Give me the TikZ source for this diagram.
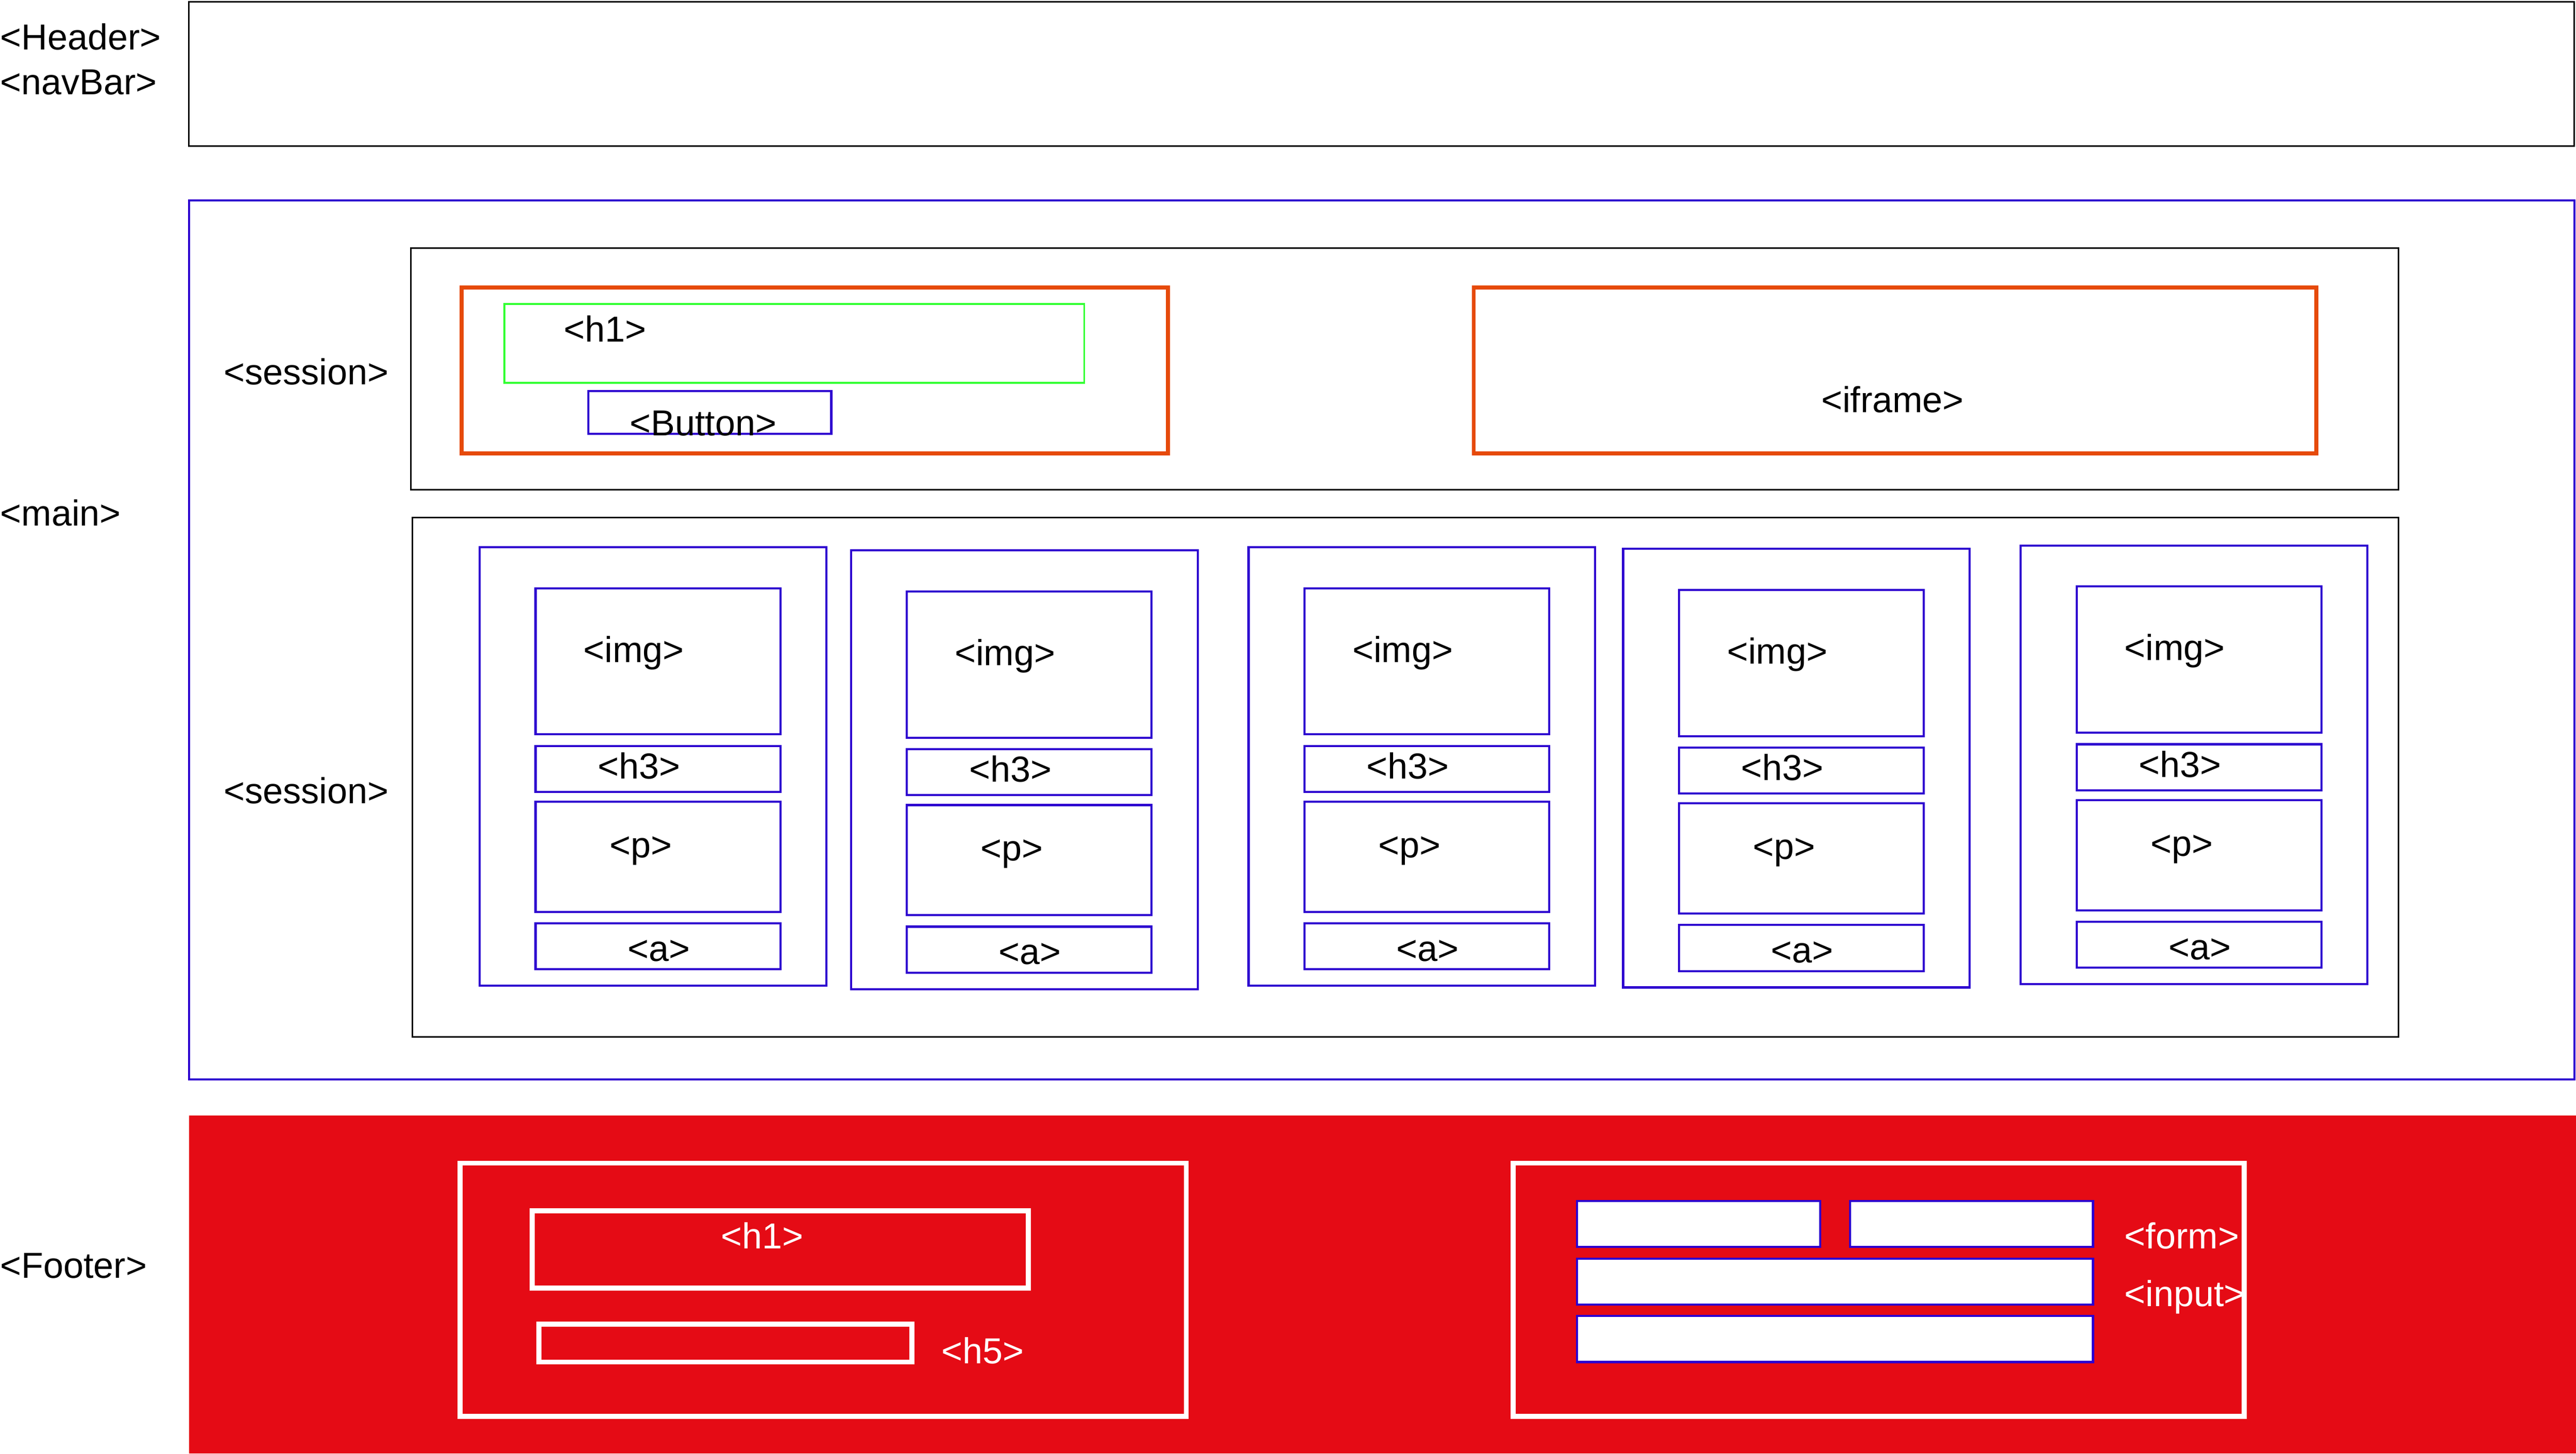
\documentclass[tikz,border=0pt]{standalone}
\usepackage{fontspec}
\setmainfont{Liberation Sans}
\definecolor{bl}{HTML}{2E00D0}
\definecolor{og}{HTML}{E64A0A}
\definecolor{gr}{HTML}{33FF33}
\definecolor{rd}{HTML}{E50B15}
\tikzset{
  blk/.style={draw=black,line width=1pt},
  blu/.style={draw=bl,line width=1.3pt},
  org/.style={draw=og,line width=2.4pt},
  grn/.style={draw=gr,line width=1pt},
  wht/.style={draw=white,line width=3pt},
  inp/.style={draw=bl,fill=white,line width=1.3pt},
  lbl/.style={inner sep=0pt,anchor=base west,font=\fontsize{22}{26}\selectfont},
  clbl/.style={inner sep=0pt,anchor=base,font=\fontsize{22}{26}\selectfont},
}
\begin{document}
\begin{tikzpicture}[x=1pt,y=-1pt]
\useasboundingbox (0,0) rectangle (1568,884.8);
% header
\draw[blk] (115,1) rectangle (1567,89);
\node[lbl] (thead) at (0,30.4) {<Header>};
\node[lbl] (tnav) at (0,57.6) {<navBar>};
% main
\draw[blu] (115,122) rectangle (1567,657);
\node[lbl] (tmain) at (0,320) {<main>};
% session 1
\draw[blk] (250,151) rectangle (1460,298);
\node[lbl] (tses1) at (136,234) {<session>};
\draw[org] (281,175) rectangle (711,276);
\draw[grn] (307,185) rectangle (660,233);
\node[lbl] (th1) at (343,208) {<h1>};
\draw[blu] (358,238) rectangle (506,264);
\node[clbl] (tbtn) at (428,265) {<Button>};
\draw[org] (897,175) rectangle (1410,276);
\node[clbl] (tifr) at (1152,251) {<iframe>};
% session 2
\draw[blk] (251,315) rectangle (1460,631);
\node[lbl] (tses2) at (136,489) {<session>};
\foreach \cx/\cy [count=\i] in {292/333,518/335,760/333,988/334,1230/332}{
  \begin{scope}[shift={(\cx,\cy)}]
    \draw[blu] (0,0) rectangle (211,267);
    \draw[blu] (34,25) rectangle (183,114);
    \draw[blu] (34,121) rectangle (183,149);
    \draw[blu] (34,155) rectangle (183,222);
    \draw[blu] (34,229) rectangle (183,257);
    \node[lbl] (timg\i) at (63,70) {<img>};
    \node[clbl] (th3\i) at (97,141) {<h3>};
    \node[clbl] (tp\i) at (98,189) {<p>};
    \node[clbl] (ta\i) at (109,252) {<a>};
  \end{scope}
}
% footer
\fill[rd] (115,679) rectangle (1568,884.8);
\node[lbl] (tfoot) at (0,778) {<Footer>};
\draw[wht] (280,708) rectangle (722,862);
\draw[wht] (324,737) rectangle (626,784);
\node[clbl,text=white] (tfh1) at (464,760) {<h1>};
\draw[wht] (328,806) rectangle (555,829);
\node[lbl,text=white] (tfh5) at (573,830) {<h5>};
\draw[wht] (921,708) rectangle (1366,862);
\draw[inp] (960,731) rectangle (1108,759);
\draw[inp] (1126,731) rectangle (1274,759);
\draw[inp] (960,766) rectangle (1274,794);
\draw[inp] (960,801) rectangle (1274,829);
\node[lbl,text=white] (tform) at (1293,760) {<form>};
\node[lbl,text=white] (tinput) at (1293,795) {<input>};
\end{tikzpicture}
\end{document}
